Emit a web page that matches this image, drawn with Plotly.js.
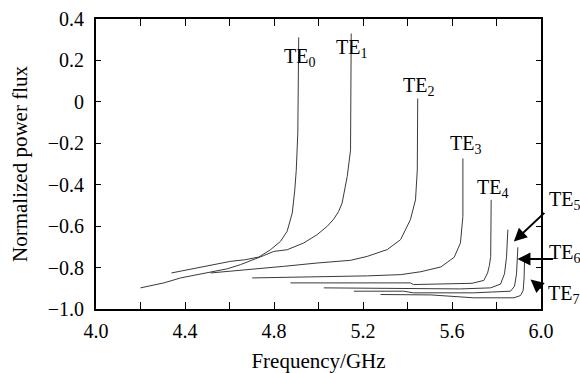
<!DOCTYPE html>
<html>
<head>
<meta charset="utf-8">
<script src="https://cdn.plot.ly/plotly-3.0.1.min.js"></script>
<style>html,body{margin:0;padding:0;background:#fff;}#chart{width:580px;height:373px;}</style>
</head>
<body>
<div id="chart"></div>
<script>
// Mode names
const modes = ["TE0", "TE1", "TE2", "TE3", "TE4", "TE5", "TE6", "TE7"];
// Frequency (GHz) and normalized power flux for each mode
const te0Freq = [4.339, 4.455, 4.529, 4.604, 4.672, 4.732, 4.784, 4.829, 4.859, 4.882, 4.893, 4.900, 4.907, 4.911];
const te0Flux = [-0.826, -0.802, -0.786, -0.770, -0.762, -0.749, -0.714, -0.674, -0.625, -0.537, -0.430, -0.330, -0.151, 0.311];
const te1Freq = [4.200, 4.305, 4.380, 4.455, 4.529, 4.590, 4.649, 4.709, 4.754, 4.799, 4.859, 4.934, 4.994, 5.040, 5.069, 5.090, 5.106, 5.129, 5.144, 5.147];
const te1Flux = [-0.898, -0.874, -0.850, -0.834, -0.818, -0.806, -0.786, -0.762, -0.742, -0.722, -0.714, -0.681, -0.641, -0.600, -0.565, -0.530, -0.489, -0.361, -0.233, 0.330];
const te2Freq = [4.515, 4.694, 4.844, 4.994, 5.144, 5.219, 5.309, 5.369, 5.413, 5.436, 5.444, 5.446];
const te2Flux = [-0.826, -0.810, -0.794, -0.778, -0.765, -0.746, -0.713, -0.665, -0.569, -0.473, -0.329, 0.016];
const te3Freq = [4.702, 4.850, 5.080, 5.220, 5.370, 5.460, 5.550, 5.610, 5.638, 5.646, 5.649, 5.649];
const te3Flux = [-0.850, -0.848, -0.842, -0.840, -0.834, -0.820, -0.797, -0.750, -0.681, -0.600, -0.553, -0.273];
const te4Freq = [4.874, 5.413, 5.427, 5.621, 5.690, 5.743, 5.760, 5.768, 5.774, 5.776];
const te4Flux = [-0.874, -0.874, -0.882, -0.880, -0.876, -0.862, -0.826, -0.790, -0.746, -0.473];
const te5Freq = [5.024, 5.427, 5.638, 5.773, 5.818, 5.836, 5.845, 5.851];
const te5Flux = [-0.898, -0.903, -0.903, -0.898, -0.880, -0.830, -0.750, -0.617];
const te6Freq = [5.159, 5.382, 5.427, 5.697, 5.863, 5.881, 5.890, 5.896];
const te6Flux = [-0.914, -0.914, -0.922, -0.922, -0.914, -0.890, -0.830, -0.702];
const te7Freq = [5.279, 5.504, 5.698, 5.878, 5.908, 5.920, 5.924, 5.926];
const te7Flux = [-0.930, -0.932, -0.946, -0.946, -0.935, -0.910, -0.850, -0.770];

const xTickVals = [4.0, 4.4, 4.8, 5.2, 5.6, 6.0];
const xTickText = ["4.0", "4.4", "4.8", "5.2", "5.6", "6.0"];
const yTickVals = [0.4, 0.2, 0, -0.2, -0.4, -0.6, -0.8, -1.0];
const yTickText = ["0.4", "0.2", "0", "\u22120.2", "\u22120.4", "\u22120.6", "\u22120.8", "\u22121.0"];

const freqs = [te0Freq, te1Freq, te2Freq, te3Freq, te4Freq, te5Freq, te6Freq, te7Freq];
const fluxes = [te0Flux, te1Flux, te2Flux, te3Flux, te4Flux, te5Flux, te6Flux, te7Flux];

const traces = modes.map((m, i) => ({
  x: freqs[i], y: fluxes[i], mode: 'lines', name: m,
  line: {color: '#3a3a3a', width: 1}, hoverinfo: 'skip'
}));

const FONT = "'Liberation Serif', 'Times New Roman', serif";
function lbl(n) { return 'TE<sub>' + n + '</sub>'; }

const annotations = [
  {xref:'x', yref:'y', x:4.915, y:0.215, text:lbl(0), showarrow:false},
  {xref:'x', yref:'y', x:5.148, y:0.257, text:lbl(1), showarrow:false},
  {xref:'x', yref:'y', x:5.449, y:0.075, text:lbl(2), showarrow:false},
  {xref:'x', yref:'y', x:5.660, y:-0.208, text:lbl(3), showarrow:false},
  {xref:'x', yref:'y', x:5.782, y:-0.417, text:lbl(4), showarrow:false},
  {xref:'paper', yref:'paper', x:(564-96)/445, y:(309-201)/290, text:lbl(5), showarrow:false},
  {xref:'paper', yref:'paper', x:(564-96)/445, y:(309-253)/290, text:lbl(6), showarrow:false},
  {xref:'paper', yref:'paper', x:(563-96)/445, y:(309-294)/290, text:lbl(7), showarrow:false},
  {xref:'x', yref:'y', x:5.878, y:-0.674, text:'', showarrow:true, arrowhead:2, arrowsize:1.3, arrowwidth:2, arrowcolor:'#000', ax:32, ay:-30, standoff:0},
  {xref:'x', yref:'y', x:5.894, y:-0.759, text:'', showarrow:true, arrowhead:2, arrowsize:1.3, arrowwidth:2, arrowcolor:'#000', ax:37, ay:0, standoff:0},
  {xref:'x', yref:'y', x:5.953, y:-0.858, text:'', showarrow:true, arrowhead:2, arrowsize:1.3, arrowwidth:2, arrowcolor:'#000', ax:12, ay:10, standoff:0}
].map(a => Object.assign({font:{family:FONT, size:20, color:'#000'}, xanchor:'center', yanchor:'middle'}, a));

const tickFont = {family: FONT, size: 20, color: '#000'};

const layout = {
  width: 580, height: 373,
  margin: {l: 96, r: 39, t: 19, b: 64},
  paper_bgcolor: '#fff', plot_bgcolor: '#fff',
  showlegend: false,
  font: {family: FONT, size: 20, color: '#000'},
  xaxis: {
    range: [4.0, 6.0], tickvals: xTickVals, ticktext: xTickText, tickfont: tickFont,
    ticks: 'inside', ticklen: 7, tickwidth: 1, tickcolor: '#000', ticklabelstandoff: 3,
    minor: {dtick: 0.2, tick0: 4.0, ticks: 'inside', ticklen: 7, tickwidth: 1, tickcolor: '#000'},
    showline: true, linewidth: 2, linecolor: '#000', mirror: 'ticks',
    showgrid: false, zeroline: false,
    title: {text: 'Frequency/GHz', font: {family: FONT, size: 21, color: '#000'}, standoff: 16}
  },
  yaxis: {
    range: [-1.0, 0.4], tickvals: yTickVals, ticktext: yTickText, tickfont: tickFont,
    ticks: 'inside', ticklen: 5, tickwidth: 1, tickcolor: '#000', ticklabelstandoff: 6,
    showline: true, linewidth: 2, linecolor: '#000', mirror: 'ticks',
    showgrid: false, zeroline: false,
    title: {text: 'Normalized power flux', font: {family: FONT, size: 21, color: '#000'}, standoff: 14}
  },
  annotations: annotations
};

Plotly.newPlot('chart', traces, layout, {staticPlot: true, displayModeBar: false});
</script>
</body>
</html>
